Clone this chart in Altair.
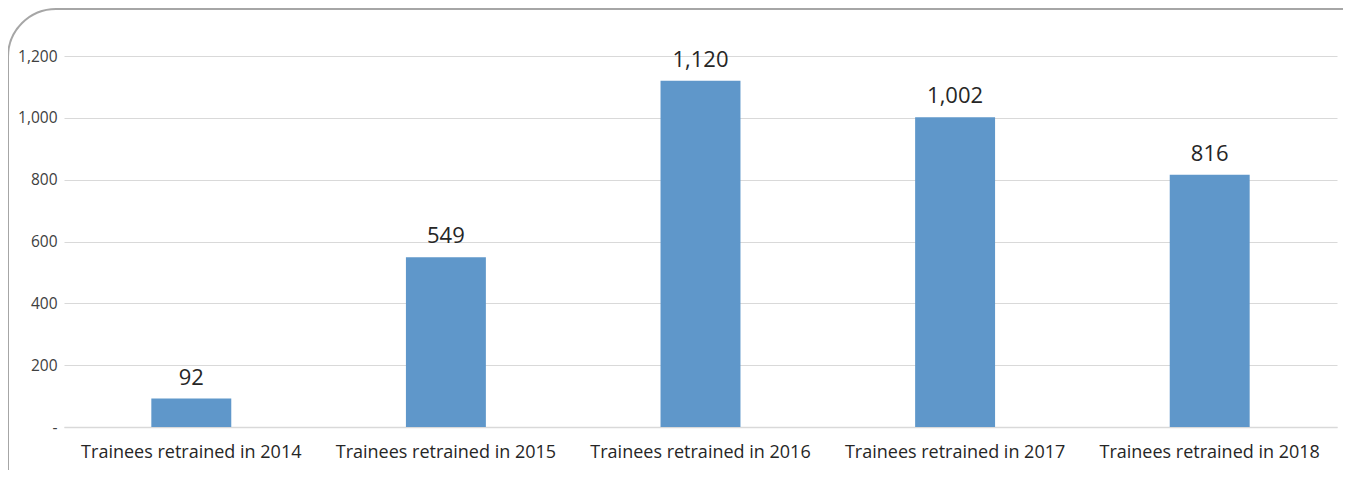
import altair as alt
import pandas as pd

categories = ["Trainees retrained in 2014", "Trainees retrained in 2015",
              "Trainees retrained in 2016", "Trainees retrained in 2017",
              "Trainees retrained in 2018"]
values = [92, 549, 1120, 1002, 816]
y_ticks = [0, 200, 400, 600, 800, 1000, 1200]

df = pd.DataFrame({"cat": categories, "val": values})

W, H = 1273, 371
FONT = "Open Sans"

frame = alt.Chart(pd.DataFrame({"a": [0]})).mark_rect(
    fill="white", fillOpacity=0, stroke="#a6a6a6", strokeWidth=2, cornerRadius=48
).encode(
    x=alt.value(-56), x2=alt.value(1330), y=alt.value(-47), y2=alt.value(460)
)

xenc = alt.X("cat:N", sort=categories, title=None,
             scale=alt.Scale(paddingInner=0.686, paddingOuter=0.343),
             axis=alt.Axis(labelAngle=0, labelFontSize=18, labelColor="#262626",
                           labelFont=FONT, labelPadding=16, labelLimit=400, ticks=False,
                           domainColor="#d9d9d9", domainWidth=1.5, grid=False))
yenc = alt.Y("val:Q", title=None,
             scale=alt.Scale(domain=[0, 1200], nice=False),
             axis=alt.Axis(values=y_ticks, labelExpr="datum.value == 0 ? '-' : format(datum.value, ',')",
                           labelFontSize=15.5, labelColor="#404040", labelFont=FONT,
                           labelPadding=7, ticks=False, domain=False,
                           gridColor="#d9d9d9", gridWidth=1.2))

bars = alt.Chart(df).mark_bar(color="#5f97ca").encode(x=xenc, y=yenc)
labels = alt.Chart(df).mark_text(
    fontSize=22, font=FONT, color="#262626", baseline="alphabetic", dy=-14
).encode(x=alt.X("cat:N", sort=categories), y="val:Q", text=alt.Text("val:Q", format=","))

chart = alt.layer(bars, labels, frame).properties(
    width=W, height=H,
    autosize=alt.AutoSizeParams(type="none"),
    padding={"left": 56, "top": 48, "right": 6, "bottom": 43},
    background="white",
).configure_view(stroke=None)

chart.save("out.html", embed_options={"renderer": "svg", "actions": False})
